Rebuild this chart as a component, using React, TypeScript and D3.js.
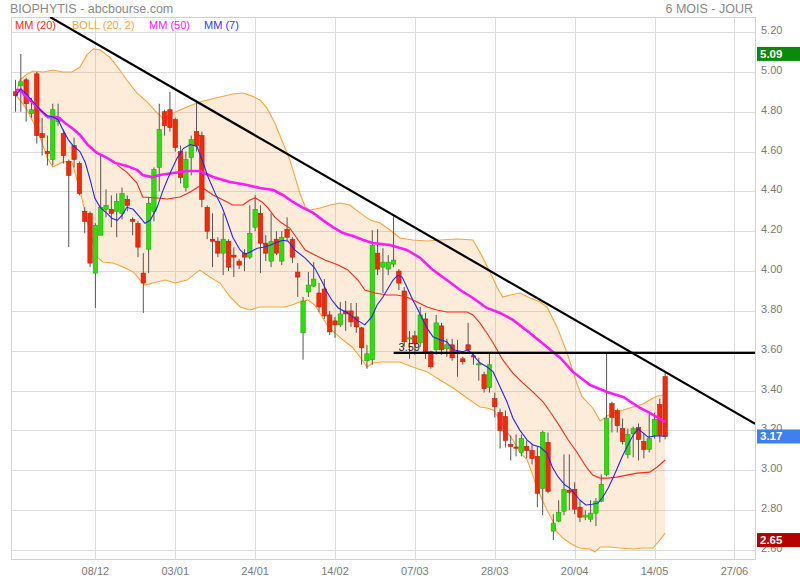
import React from 'react';
import * as d3 from 'd3';

// daily candles: [open, high, low, close]
const ohlc: [number, number, number, number][] = [
  [4.90, 4.96, 4.80, 4.88], [4.93, 5.09, 4.80, 4.95], [4.96, 4.97, 4.75, 4.84], [4.79, 4.87, 4.77, 4.81],
  [4.99, 5.00, 4.64, 4.68], [4.69, 4.77, 4.58, 4.67], [4.60, 4.68, 4.53, 4.59], [4.56, 4.84, 4.53, 4.81],
  [4.75, 4.84, 4.73, 4.77], [4.69, 4.71, 4.54, 4.58], [4.55, 4.56, 4.12, 4.48], [4.63, 4.67, 4.52, 4.56],
  [4.54, 4.55, 4.38, 4.39], [4.30, 4.32, 4.19, 4.25], [4.29, 4.30, 4.02, 4.04], [3.99, 4.24, 3.815, 4.23],
  [4.18, 4.59, 4.18, 4.32], [4.31, 4.41, 4.27, 4.33], [4.31, 4.38, 4.22, 4.29], [4.30, 4.39, 4.17, 4.35],
  [4.29, 4.42, 4.26, 4.39], [4.36, 4.38, 4.30, 4.33], [4.26, 4.27, 4.18, 4.25], [4.24, 4.25, 4.07, 4.12],
  [3.99, 4.09, 3.79, 3.94], [4.11, 4.37, 3.99, 4.34], [4.30, 4.52, 4.25, 4.51], [4.52, 4.84, 4.40, 4.71],
  [4.80, 4.81, 4.68, 4.73], [4.81, 4.90, 4.70, 4.72], [4.76, 4.77, 4.60, 4.62], [4.60, 4.63, 4.44, 4.47],
  [4.42, 4.60, 4.40, 4.56], [4.57, 4.68, 4.48, 4.66], [4.70, 4.855, 4.60, 4.63], [4.68, 4.70, 4.32, 4.36],
  [4.32, 4.33, 4.16, 4.20], [4.16, 4.29, 4.02, 4.15], [4.15, 4.17, 4.07, 4.09], [4.09, 4.29, 3.98, 4.16],
  [4.15, 4.16, 4.00, 4.02], [4.08, 4.12, 3.97, 4.07], [4.05, 4.06, 4.01, 4.03], [4.09, 4.11, 4.00, 4.07],
  [4.07, 4.33, 4.06, 4.19], [4.22, 4.38, 4.20, 4.31], [4.29, 4.33, 3.99, 4.14], [4.14, 4.18, 4.05, 4.09],
  [4.05, 4.29, 4.02, 4.15], [4.16, 4.20, 4.08, 4.09], [4.05, 4.20, 4.03, 4.17], [4.21, 4.27, 4.15, 4.17],
  [4.16, 4.17, 4.04, 4.07], [3.995, 4.04, 3.87, 3.97], [3.69, 3.87, 3.555, 3.85], [3.895, 3.995, 3.87, 3.93],
  [3.925, 4.045, 3.92, 3.96], [3.89, 3.94, 3.795, 3.82], [3.91, 3.96, 3.76, 3.775], [3.78, 3.80, 3.68, 3.695],
  [3.75, 3.77, 3.665, 3.73], [3.73, 3.845, 3.72, 3.785], [3.80, 3.85, 3.70, 3.785], [3.80, 3.84, 3.72, 3.745],
  [3.77, 3.84, 3.69, 3.72], [3.715, 3.72, 3.53, 3.615], [3.55, 3.63, 3.51, 3.585], [3.555, 4.205, 3.53, 4.13],
  [4.09, 4.21, 3.98, 4.01], [4.02, 4.115, 3.89, 4.045], [4.01, 4.08, 3.98, 4.045], [4.035, 4.28, 4.02, 4.055],
  [4.00, 4.01, 3.905, 3.94], [3.90, 3.92, 3.62, 3.645], [3.66, 3.70, 3.56, 3.665], [3.675, 3.70, 3.58, 3.635],
  [3.64, 3.82, 3.62, 3.78], [3.76, 3.79, 3.56, 3.595], [3.595, 3.60, 3.51, 3.52], [3.605, 3.78, 3.58, 3.74],
  [3.725, 3.74, 3.58, 3.605], [3.61, 3.66, 3.57, 3.63], [3.63, 3.66, 3.55, 3.565], [3.595, 3.655, 3.47, 3.585],
  [3.56, 3.57, 3.53, 3.545], [3.63, 3.74, 3.59, 3.605], [3.575, 3.59, 3.53, 3.57], [3.535, 3.565, 3.45, 3.535],
  [3.48, 3.495, 3.39, 3.41], [3.415, 3.59, 3.39, 3.53], [3.36, 3.39, 3.265, 3.32], [3.29, 3.31, 3.11, 3.20],
  [3.27, 3.30, 3.115, 3.15], [3.13, 3.175, 3.05, 3.12], [3.117, 3.18, 3.07, 3.115], [3.09, 3.18, 3.07, 3.16],
  [3.12, 3.15, 3.06, 3.10], [3.10, 3.13, 3.03, 3.06], [3.07, 3.12, 2.815, 2.885], [2.91, 3.20, 2.775, 3.19],
  [3.14, 3.19, 2.885, 2.895], [2.695, 2.78, 2.65, 2.735], [2.745, 2.85, 2.74, 2.79], [2.795, 3.08, 2.775, 2.905],
  [2.90, 3.08, 2.80, 2.89], [2.905, 2.94, 2.78, 2.805], [2.815, 2.85, 2.74, 2.765], [2.765, 2.80, 2.75, 2.775],
  [2.755, 2.85, 2.74, 2.785], [2.785, 2.86, 2.72, 2.845], [2.845, 2.98, 2.84, 2.93], [2.98, 3.585, 2.97, 3.26],
  [3.335, 3.345, 3.19, 3.265], [3.30, 3.31, 3.19, 3.225], [3.21, 3.26, 3.13, 3.145], [3.08, 3.21, 3.06, 3.18],
  [3.185, 3.22, 3.065, 3.21], [3.215, 3.235, 3.05, 3.155], [3.145, 3.19, 3.06, 3.105], [3.105, 3.29, 3.09, 3.16],
  [3.175, 3.29, 3.16, 3.255], [3.33, 3.36, 3.14, 3.175], [3.47, 3.49, 3.155, 3.17],
];

const xTickIdx = [15, 30, 45, 60, 75, 90, 105, 120, 135];
const xTickLabels = ['08/12', '03/01', '24/01', '14/02', '07/03', '28/03', '20/04', '14/05', '27/06'];
const yTicks = [2.6, 2.8, 3.0, 3.2, 3.4, 3.6, 3.8, 4.0, 4.2, 4.4, 4.6, 4.8, 5.0, 5.2];

// indicator lines: [day index, value]
const ma7: [number, number][] = [
  [0, 4.88], [1, 4.915], [2.2, 4.885], [3.3, 4.85], [4.6, 4.81], [5.9, 4.78], [7, 4.775], [8, 4.76],
  [8.9, 4.71], [9.9, 4.66], [10.8, 4.63], [12.1, 4.6], [13.1, 4.545], [14, 4.46], [14.9, 4.365], [15.9, 4.32],
  [17.2, 4.29], [18.1, 4.265], [19.1, 4.255], [20, 4.28], [20.9, 4.32], [22.1, 4.31], [23.4, 4.27], [24.3, 4.24],
  [25.3, 4.255], [26.6, 4.32], [27.7, 4.405], [29, 4.49], [30.3, 4.565], [31.5, 4.615], [32.8, 4.635], [34.1, 4.625],
  [35, 4.56], [36.2, 4.47], [37.5, 4.39], [38.8, 4.32], [39.7, 4.255], [40.8, 4.17], [42.2, 4.105], [43.1, 4.085],
  [44, 4.095], [45.4, 4.115], [46.5, 4.12], [47.8, 4.13], [49.1, 4.145], [50.2, 4.155], [51.2, 4.15], [52.5, 4.105],
  [54.4, 4.065], [56.2, 4.015], [57.6, 3.945], [58.5, 3.895], [59.4, 3.855], [60.6, 3.815], [62.4, 3.79], [64.1, 3.755],
  [65.6, 3.73], [66.9, 3.77], [67.9, 3.83], [69, 3.87], [70, 3.915], [70.9, 3.955], [71.8, 3.98], [72.6, 3.97],
  [73.5, 3.92], [74.6, 3.855], [75.6, 3.805], [76.5, 3.755], [77.5, 3.705], [78.4, 3.67], [79.7, 3.655], [81, 3.645],
  [82.2, 3.605], [84, 3.595], [85, 3.605], [85.9, 3.58], [87.2, 3.54], [88.5, 3.52], [89.7, 3.494], [91, 3.418],
  [92.3, 3.343], [93.4, 3.263], [94.7, 3.202], [96.1, 3.152], [97.2, 3.127], [98.5, 3.117], [99.8, 3.087], [100.8, 3.017],
  [101.9, 2.967], [103.2, 2.926], [104.1, 2.911], [105.1, 2.88], [106, 2.85], [107.1, 2.826], [108.3, 2.83], [109.4, 2.836],
  [110.3, 2.866], [111.3, 2.911], [112.2, 2.962], [113.1, 3.017], [113.9, 3.067], [114.8, 3.117], [116, 3.177], [116.9, 3.208],
  [117.9, 3.187], [118.8, 3.167], [120.1, 3.172], [122, 3.172],
];

const ma20: [number, number][] = [
  [19.1, 4.532], [20.9, 4.497], [22.8, 4.442], [23.9, 4.372], [26.6, 4.367], [28.5, 4.362], [30.9, 4.372], [32.8, 4.397],
  [34.6, 4.427], [37.1, 4.382], [39, 4.357], [40.8, 4.332], [42.7, 4.332], [44, 4.357], [45, 4.367], [46.3, 4.347],
  [47.4, 4.317], [48.7, 4.271], [50, 4.241], [51.5, 4.216], [54.4, 4.106], [56.2, 4.081], [58.1, 4.056], [60.6, 4.031],
  [62.4, 4.006], [64.3, 3.955], [65.6, 3.905], [67.5, 3.89], [69.8, 3.88], [71.6, 3.88], [73.5, 3.87], [75.4, 3.845],
  [77.3, 3.82], [79.1, 3.805], [81, 3.795], [84.8, 3.795], [85.9, 3.78], [87.2, 3.74], [88.5, 3.689], [89.7, 3.639],
  [91.5, 3.554], [93.4, 3.488], [95.3, 3.438], [97.2, 3.393], [99.1, 3.343], [100.8, 3.278], [102.3, 3.217], [103.8, 3.152],
  [105.4, 3.092], [107.3, 3.012], [108.4, 2.976], [109.8, 2.961], [111.1, 2.961], [112.9, 2.966], [114.8, 2.976], [116.7, 2.986],
  [119.1, 2.991], [120.5, 3.017], [122, 3.052],
];

const ma50: [number, number][] = [
  [0, 4.909], [0.8, 4.909], [2.7, 4.859], [5.2, 4.794], [6.1, 4.773], [8, 4.773], [9.3, 4.743], [10.6, 4.718],
  [12.1, 4.683], [13.6, 4.633], [15.3, 4.593], [17.2, 4.568], [18.7, 4.543], [20.9, 4.528], [22.8, 4.508], [23.9, 4.482],
  [25.6, 4.472], [27.1, 4.482], [29.6, 4.492], [32.2, 4.502], [34.6, 4.502], [37.1, 4.472], [40.3, 4.447], [43.5, 4.432],
  [45.9, 4.417], [48.4, 4.407], [50.2, 4.382], [52.1, 4.347], [54, 4.317], [55.9, 4.292], [57.7, 4.256], [59.6, 4.221],
  [61.5, 4.191], [63.4, 4.176], [65.3, 4.156], [67.1, 4.141], [70.3, 4.131], [73.5, 4.106], [76, 4.066], [78.4, 4.005],
  [81, 3.955], [83.5, 3.905], [85.9, 3.865], [88.5, 3.815], [91, 3.79], [93.4, 3.755], [96.6, 3.689], [99.8, 3.619],
  [102.3, 3.564], [104.7, 3.494], [107.9, 3.428], [111.1, 3.393], [114.1, 3.368], [117.3, 3.313], [119.1, 3.288], [121, 3.258],
  [122, 3.242],
];

const bollUpper: [number, number][] = [
  [0, 4.879], [0.8, 4.959], [2.2, 4.989], [3.3, 5.004], [5.2, 4.999], [7, 5.009], [8.9, 4.999], [10.6, 4.999],
  [12.1, 5.024], [13.4, 5.085], [14.6, 5.115], [15.9, 5.11], [17.7, 5.074], [19.6, 5.009], [20.9, 4.959], [22.8, 4.894],
  [24.7, 4.849], [26.6, 4.794], [27.7, 4.768], [29.6, 4.794], [32.2, 4.824], [34.6, 4.849], [38.4, 4.874], [40.8, 4.889],
  [42.7, 4.894], [44.4, 4.879], [45.9, 4.859], [47.2, 4.819], [48.7, 4.743], [50, 4.658], [51.5, 4.558], [52.5, 4.472],
  [53.4, 4.392], [54.4, 4.322], [55.3, 4.307], [57.2, 4.317], [59.1, 4.332], [60.9, 4.342], [62.8, 4.332], [64.7, 4.292],
  [66.6, 4.256], [68.5, 4.241], [70.3, 4.206], [72.2, 4.166], [74.6, 4.156], [77.3, 4.151], [79.7, 4.156], [82.9, 4.161],
  [85.9, 4.156], [87.2, 4.096], [89.1, 3.996], [90.4, 3.92], [91.5, 3.87], [92.9, 3.88], [94.7, 3.89], [96.6, 3.865],
  [98.5, 3.845], [99.8, 3.82], [101.7, 3.72], [103.6, 3.589], [105.4, 3.438], [106.4, 3.37], [108.4, 3.313], [109.8, 3.248],
  [111.1, 3.273], [112.2, 3.288], [114.1, 3.303], [116, 3.318], [117.8, 3.333], [119.1, 3.353], [120.5, 3.373], [122, 3.378],
];

const bollLower: [number, number][] = [
  [0, 4.884], [0.8, 4.859], [2.2, 4.809], [3.3, 4.748], [4.6, 4.673], [5.9, 4.573], [7, 4.522], [8.9, 4.548],
  [10.6, 4.548], [12.1, 4.407], [13.4, 4.256], [14.4, 4.156], [15.3, 4.071], [16.4, 4.046], [18.3, 4.041], [20.2, 4.021],
  [22.1, 3.996], [23.4, 3.955], [24.3, 3.93], [25.8, 3.94], [28.1, 3.955], [30, 3.94], [32.2, 3.955], [34.6, 4.005],
  [36.5, 3.97], [38.4, 3.94], [40.3, 3.87], [42.2, 3.82], [44, 3.805], [45.9, 3.82], [50.6, 3.82], [51.9, 3.83],
  [53.4, 3.845], [54.9, 3.855], [56.2, 3.83], [57.6, 3.77], [58.7, 3.72], [60, 3.689], [61.5, 3.654], [63.2, 3.619],
  [64.7, 3.569], [66, 3.519], [67.1, 3.539], [68.5, 3.544], [69.8, 3.544], [72.2, 3.544], [74.6, 3.519], [77.3, 3.494],
  [79.7, 3.453], [82.2, 3.413], [84.8, 3.363], [87.2, 3.318], [88.5, 3.313], [89.7, 3.303], [91, 3.253], [92.3, 3.192],
  [93.4, 3.152], [94.7, 3.092], [96.1, 3.052], [97, 2.986], [97.9, 2.916], [98.9, 2.851], [99.8, 2.801], [100.8, 2.751],
  [101.7, 2.69], [102.8, 2.66], [104.1, 2.635], [105.4, 2.615], [106, 2.61], [107.9, 2.605], [108.8, 2.59], [109.8, 2.615],
  [111.6, 2.615], [113.5, 2.61], [116, 2.605], [117.8, 2.61], [119.7, 2.61], [121, 2.65], [122, 2.685],
];

const trendLine: [number, number][] = [[6.5, 5.275], [138.9, 3.233]];
const resistanceFrom = 71;
const resistanceValue = 3.59;

const legendLabels = ['MM (20)', 'BOLL (20, 2)', 'MM (50)', 'MM (7)'];
const legendColors = ['#ff2a1a', '#f9a53e', '#ff1aff', '#3838ff'];
const legendX = [15, 72, 149, 204];

const left = 11, right = 755, top = 17, bottom = 559;
const x = d3.scaleLinear().domain([-0.845, 138.87]).range([left, right]);
const y = d3.scaleLinear().domain([2.555, 5.2753]).range([bottom, top]);
const line = d3.line<[number, number]>().x(d => x(d[0])).y(d => y(d[1]));

const font = '"Liberation Sans", Arial, sans-serif';

export default function App() {
  const bandPath = line([...bollUpper, ...bollLower.slice().reverse()]) + 'Z';
  const lastClose = ohlc[ohlc.length - 1][3];
  const maxHigh = d3.max(ohlc, d => d[1]) as number;
  const minLow = d3.min(ohlc, d => d[2]) as number;
  const tags = [
    { value: maxHigh, color: '#0a8a0a' },
    { value: lastClose, color: '#3f80ec' },
    { value: minLow, color: '#b50000' },
  ];
  const bw = 4.4;

  return (
    <svg width={800} height={580} style={{ position: 'absolute', left: 0, top: 0, fontFamily: font }}>
      <rect width={800} height={580} fill="#fff" />
      <defs>
        <clipPath id="plot">
          <rect x={left} y={top} width={right - left} height={bottom - top} />
        </clipPath>
      </defs>

      <text x={10} y={13} fontSize={12.5} fill="#8a8a8a">BIOPHYTIS - abcbourse.com</text>
      <text x={753} y={13} fontSize={12.5} fill="#8a8a8a" textAnchor="end">6 MOIS - JOUR</text>

      {/* grid */}
      {yTicks.map(t => (
        <line key={'h' + t} x1={left} x2={right} y1={Math.round(y(t)) + 0.5} y2={Math.round(y(t)) + 0.5} stroke="#dcdcdc" />
      ))}
      {xTickIdx.map(t => (
        <line key={'v' + t} x1={Math.round(x(t)) + 0.5} x2={Math.round(x(t)) + 0.5} y1={top} y2={bottom} stroke="#dcdcdc" />
      ))}
      <rect x={left + 0.5} y={top + 0.5} width={right - left} height={bottom - top} fill="none" stroke="#d2d2d2" />

      <g clipPath="url(#plot)">
        {/* bollinger */}
        <path d={bandPath} fill="#f7a040" fillOpacity={0.2} />
        <path d={line(bollUpper) as string} fill="none" stroke="#f9a53e" strokeWidth={1.1} />
        <path d={line(bollLower) as string} fill="none" stroke="#f9a53e" strokeWidth={1.1} />

        {/* candles */}
        {ohlc.map((c, i) => {
          const [o, h, l, cl] = c;
          const up = cl >= o;
          const cx = x(i);
          const yt = y(Math.max(o, cl));
          const yb = y(Math.min(o, cl));
          return (
            <g key={i}>
              <line x1={cx} x2={cx} y1={y(h)} y2={y(l)} stroke="#555" strokeWidth={1} />
              <rect x={cx - bw / 2} y={yt} width={bw} height={Math.max(1.2, yb - yt)}
                fill={up ? '#2fdc0c' : '#f02a0c'} stroke={up ? '#27a80e' : '#c21c08'} strokeWidth={0.6} />
            </g>
          );
        })}

        {/* moving averages */}
        <path d={line(ma20) as string} fill="none" stroke="#ff2a1a" strokeWidth={1.1} />
        <path d={line(ma50) as string} fill="none" stroke="#ff1aff" strokeWidth={2.6} />
        <path d={line(ma7) as string} fill="none" stroke="#2525ee" strokeWidth={1.1} />

        {/* trend & resistance */}
        <path d={line(trendLine) as string} fill="none" stroke="#000" strokeWidth={2.2} />
        <line x1={x(resistanceFrom)} x2={right} y1={y(resistanceValue)} y2={y(resistanceValue)} stroke="#000" strokeWidth={2.2} />
        <text x={x(resistanceFrom) + 5} y={y(resistanceValue) - 2} fontSize={11} fill="#222">{resistanceValue.toFixed(2)}</text>
      </g>

      {/* legend */}
      {legendLabels.map((l, i) => (
        <text key={l} x={legendX[i]} y={29} fontSize={11} fill={legendColors[i]}>{l}</text>
      ))}

      {/* y axis */}
      {yTicks.map(t => (
        <text key={'yl' + t} x={761} y={y(t) + 2} fontSize={11} fill="#7a7a7a">{t.toFixed(2)}</text>
      ))}
      {tags.map(t => (
        <g key={'tag' + t.color}>
          <rect x={757} y={y(t.value) - 7} width={43} height={14} fill={t.color} />
          <text x={760} y={y(t.value) + 4} fontSize={11.5} fontWeight="bold" fill="#fff">{t.value.toFixed(2)}</text>
        </g>
      ))}

      {/* x axis */}
      {xTickIdx.map((t, i) => (
        <text key={'xl' + t} x={x(t)} y={575} fontSize={11} fill="#7a7a7a" textAnchor="middle">{xTickLabels[i]}</text>
      ))}
    </svg>
  );
}
